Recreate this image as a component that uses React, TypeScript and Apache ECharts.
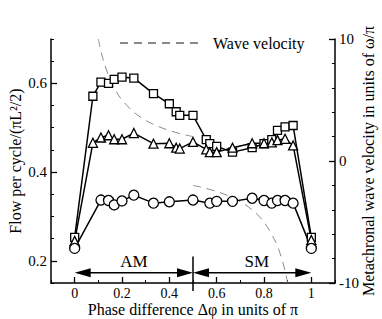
import React, { useEffect, useRef } from "react";
import * as echarts from "echarts";

const FONT = "Liberation Serif";

// Phase differences (x) and flow per cycle values
const squareX = [0, 0.077, 0.111, 0.143, 0.167, 0.2, 0.25, 0.333, 0.4, 0.429, 0.444, 0.5, 0.556, 0.571, 0.6, 0.667, 0.75, 0.8, 0.833, 0.857, 0.889, 0.923, 1];
const squareY = [0.253, 0.571, 0.603, 0.6, 0.609, 0.614, 0.612, 0.577, 0.554, 0.536, 0.528, 0.528, 0.473, 0.464, 0.458, 0.445, 0.455, 0.464, 0.473, 0.494, 0.502, 0.505, 0.253];

const triangleX = [0, 0.077, 0.111, 0.143, 0.167, 0.2, 0.25, 0.333, 0.4, 0.429, 0.444, 0.5, 0.556, 0.571, 0.6, 0.667, 0.75, 0.8, 0.833, 0.857, 0.889, 0.923, 1];
const triangleY = [0.245, 0.466, 0.478, 0.483, 0.474, 0.474, 0.488, 0.464, 0.465, 0.455, 0.453, 0.468, 0.451, 0.445, 0.445, 0.455, 0.465, 0.465, 0.467, 0.472, 0.475, 0.46, 0.247];

const circleX = [0, 0.111, 0.143, 0.167, 0.2, 0.25, 0.333, 0.4, 0.5, 0.571, 0.6, 0.667, 0.75, 0.8, 0.833, 0.857, 0.889, 0.923, 1];
const circleY = [0.228, 0.337, 0.336, 0.326, 0.335, 0.348, 0.33, 0.333, 0.337, 0.33, 0.334, 0.334, 0.341, 0.336, 0.33, 0.336, 0.336, 0.33, 0.228];

// Metachronal wave velocity (right axis)
const waveAmX = [0.1, 0.11, 0.125, 0.15, 0.175, 0.2, 0.25, 0.3, 0.35, 0.4, 0.45, 0.5];
const waveAmV = [10, 9.09, 8, 6.67, 5.71, 5, 4, 3.33, 2.86, 2.5, 2.22, 2];
const waveSmX = [0.5, 0.55, 0.6, 0.65, 0.7, 0.75, 0.8, 0.85, 0.875, 0.89, 0.9];
const waveSmV = [-2, -2.22, -2.5, -2.86, -3.33, -4, -5, -6.67, -8, -9.09, -10];

// Tick labels
const xTickLabels = [0, 0.2, 0.4, 0.6, 0.8, 1];
const leftTickLabels = [0.2, 0.4, 0.6];
const rightTickLabels = [-10, 0, 10];

// Regions (AM / SM) arrows: from, to, y, labelX, labelY
const regionNames = ["AM", "SM"];
const regionFrom = [0, 0.5];
const regionTo = [0.5, 1];
const regionArrowY = [0.173, 0.173];
const regionLabelX = [0.25, 0.77];
const regionLabelY = [0.198, 0.198];
const dividerX = 0.5;
const dividerTop = 0.21;
const dividerBottom = 0.132;

const zip = (xs: number[], ys: number[]) => xs.map((x, i) => [x, ys[i]]);

export default function App() {
  const ref = useRef<HTMLDivElement>(null);
  useEffect(() => {
    document.body.style.margin = "0";
    const chart = echarts.init(ref.current!, null, { renderer: "svg" });
    const axisLine = { show: true, onZero: false, lineStyle: { color: "#000", width: 1.5 } };
    const noLine = { show: false, onZero: false };
    const minorTick = { show: true, inside: true, length: 3, lineStyle: { color: "#000", width: 1 } };
    const majorTick = (vals: number[]) => ({ show: true, inside: true, length: 6, customValues: vals, lineStyle: { color: "#000", width: 1.3 } });
    const labelStyle = { color: "#000", fontFamily: FONT, fontSize: 15 };
    const nameStyle = { color: "#000", fontFamily: FONT, fontSize: 16 };

    const waveData: any[] = [...zip(waveAmX, waveAmV), [null, null], ...zip(waveSmX, waveSmV)];

    const markerSeries = (name: string, symbol: string, size: number, xs: number[], ys: number[]) => ({
      type: "line",
      name,
      data: zip(xs, ys),
      xAxisIndex: 0,
      yAxisIndex: 0,
      symbol,
      symbolSize: size,
      showAllSymbol: true,
      lineStyle: { color: "#000", width: 1.5 },
      itemStyle: { color: "#fff", borderColor: "#000", borderWidth: 1.3 },
      z: 3,
    });

    const regionData = regionNames.map((_, i) => [regionFrom[i], regionTo[i], regionArrowY[i], regionLabelX[i], regionLabelY[i]]);

    chart.setOption({
      animation: false,
      textStyle: { fontFamily: FONT },
      grid: { left: 51, right: 47, top: 39, bottom: 36, containLabel: false, outerBoundsMode: "none" },
      legend: {
        data: ["Wave velocity"],
        left: 119,
        top: 35,
        itemWidth: 81,
        itemHeight: 14,
        padding: 0,
        itemStyle: { opacity: 0 },
        textStyle: { color: "#000", fontFamily: FONT, fontSize: 16, padding: [0, 0, 0, 7] },
      },
      xAxis: [
        {
          type: "value",
          position: "bottom",
          min: -0.1,
          max: 1.1,
          interval: 0.1,
          axisLine,
          axisTick: minorTick,
          axisLabel: { ...labelStyle, fontSize: 14, lineHeight: 14, margin: 3, customValues: xTickLabels },
          splitLine: { show: false },
          name: "Phase difference Δφ in units of π",
          nameLocation: "middle",
          nameGap: 18,
          nameMoveOverlap: false,
          nameTextStyle: nameStyle,
        },
        {
          type: "value",
          position: "bottom",
          min: -0.1,
          max: 1.1,
          interval: 0.1,
          axisLine: noLine,
          axisTick: majorTick(xTickLabels),
          axisLabel: { show: false },
          splitLine: { show: false },
        },
      ],
      yAxis: [
        {
          type: "value",
          position: "left",
          min: 0.15,
          max: 0.7,
          interval: 0.05,
          axisLine,
          axisTick: minorTick,
          axisLabel: { ...labelStyle, margin: 4, customValues: leftTickLabels },
          splitLine: { show: false },
          name: "Flow per cycle/(πL²/2)",
          nameLocation: "middle",
          nameGap: 28,
          nameRotate: 90,
          nameMoveOverlap: false,
          nameTextStyle: nameStyle,
        },
        {
          type: "value",
          position: "right",
          min: -10,
          max: 10,
          interval: 2,
          axisLine,
          axisTick: minorTick,
          axisLabel: { ...labelStyle, margin: 4, customValues: rightTickLabels },
          splitLine: { show: false },
          name: "Metachronal wave velocity in units of ω/π",
          nameLocation: "middle",
          nameGap: 25,
          nameRotate: 90,
          nameMoveOverlap: false,
          nameTextStyle: nameStyle,
        },
        {
          type: "value",
          position: "left",
          min: 0.15,
          max: 0.7,
          interval: 0.05,
          axisLine: noLine,
          axisTick: majorTick(leftTickLabels),
          axisLabel: { show: false },
          splitLine: { show: false },
        },
        {
          type: "value",
          position: "right",
          min: -10,
          max: 10,
          interval: 2,
          axisLine: noLine,
          axisTick: majorTick(rightTickLabels),
          axisLabel: { show: false },
          splitLine: { show: false },
        },
      ],
      series: [
        {
          type: "line",
          name: "Wave velocity",
          data: waveData,
          xAxisIndex: 0,
          yAxisIndex: 1,
          symbol: "none",
          smooth: 0.3,
          connectNulls: false,
          lineStyle: { color: "#8a8a8a", width: 1, type: [8, 6] },
          itemStyle: { color: "#8a8a8a" },
          z: 1,
        },
        markerSeries("squares", "rect", 8, squareX, squareY),
        markerSeries("triangles", "triangle", 9, triangleX, triangleY),
        markerSeries("circles", "circle", 10, circleX, circleY),
        {
          type: "custom",
          name: "regions",
          xAxisIndex: 0,
          yAxisIndex: 0,
          clip: false,
          data: regionData,
          renderItem: (params: any, api: any) => {
            const s = api.coord([api.value(0), api.value(2)]);
            const e = api.coord([api.value(1), api.value(2)]);
            const t = api.coord([api.value(3), api.value(4)]);
            const L = 16, H = 4.5;
            return {
              type: "group",
              children: [
                { type: "line", shape: { x1: s[0] + 4, y1: s[1], x2: e[0] - 4, y2: e[1] }, style: { stroke: "#000", lineWidth: 1.5 } },
                { type: "polygon", shape: { points: [[s[0], s[1]], [s[0] + L, s[1] - H], [s[0] + L, s[1] + H]] }, style: { fill: "#000" } },
                { type: "polygon", shape: { points: [[e[0], e[1]], [e[0] - L, e[1] - H], [e[0] - L, e[1] + H]] }, style: { fill: "#000" } },
                {
                  type: "text",
                  x: t[0],
                  y: t[1],
                  style: { text: regionNames[params.dataIndex], fontFamily: FONT, fontSize: 17, fill: "#000", align: "center", verticalAlign: "middle" },
                },
              ],
            };
          },
          z: 4,
        },
        {
          type: "custom",
          name: "divider",
          xAxisIndex: 0,
          yAxisIndex: 0,
          clip: false,
          data: [[dividerX, dividerTop, dividerBottom]],
          renderItem: (params: any, api: any) => {
            const a = api.coord([api.value(0), api.value(1)]);
            const b = api.coord([api.value(0), api.value(2)]);
            return { type: "line", shape: { x1: a[0], y1: a[1], x2: b[0], y2: b[1] }, style: { stroke: "#000", lineWidth: 1.5 } };
          },
          z: 4,
        },
      ],
    });
    return () => chart.dispose();
  }, []);
  return <div ref={ref} style={{ width: 382, height: 319 }} />;
}
